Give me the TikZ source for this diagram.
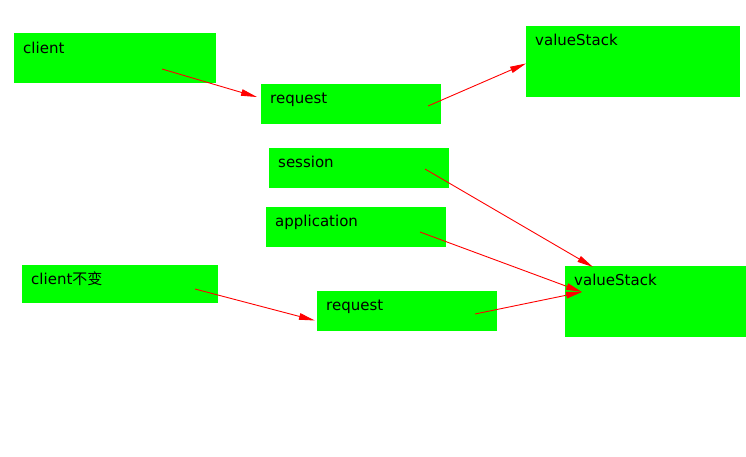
\documentclass[tikz,border=0pt]{standalone}
\usepackage{fontspec}
\setmainfont{DejaVu Sans}
\newfontfamily\cjk{Noto Sans CJK SC}
\usetikzlibrary{arrows.meta,calc}
\definecolor{boxgreen}{HTML}{00FF00}
\definecolor{arrred}{HTML}{FF0000}
\begin{document}
\begin{tikzpicture}[x=1pt,y=-1pt,
  box/.style={fill=boxgreen,draw=none,rectangle,anchor=north west,inner sep=0pt},
  lbl/.style={anchor=base west,inner sep=0pt,font=\fontsize{15}{18}\selectfont},
  conn/.style={draw=arrred,line width=0.9pt,-{Triangle[length=16pt,width=6.5pt]}}]
\useasboundingbox (0,0) rectangle (746,456);
\fill[white] (0,0) rectangle (746,456);
% boxes
\node[box,minimum width=202,minimum height=50] (client) at (14,33) {};
\node[box,minimum width=180,minimum height=40] (req1) at (261,84) {};
\node[box,minimum width=214,minimum height=71] (vs1) at (526,26) {};
\node[box,minimum width=180,minimum height=40] (session) at (269,148) {};
\node[box,minimum width=180,minimum height=40] (app) at (266,207) {};
\node[box,minimum width=196,minimum height=38] (client2) at (22,265) {};
\node[box,minimum width=180,minimum height=40] (req2) at (317,291) {};
\node[box,minimum width=181,minimum height=71] (vs2) at (565,266) {};
% labels
\node[lbl] (tclient) at ($(client.north west)+(9,20)$) {client};
\node[lbl] (treq1) at ($(req1.north west)+(9,19.5)$) {request};
\node[lbl] (tvs1) at ($(vs1.north west)+(9,19.5)$) {valueStack};
\node[lbl] (tsession) at ($(session.north west)+(9,19.5)$) {session};
\node[lbl] (tapp) at ($(app.north west)+(9,19.5)$) {application};
\node[lbl] (tclient2) at ($(client2.north west)+(9,19.5)$) {client{\cjk 不变}};
\node[lbl] (treq2) at ($(req2.north west)+(9,19.5)$) {request};
\node[lbl] (tvs2) at ($(vs2.north west)+(9,19.5)$) {valueStack};
% connector endpoints
\coordinate (a1s) at ($(client.north west)+(148,36)$);
\coordinate (a1e) at ($(req1.north west)+(-4,13)$);
\coordinate (a2s) at ($(req1.north west)+(167,22)$);
\coordinate (a2e) at ($(vs1.north west)+(0,37.5)$);
\coordinate (a3s) at ($(session.north west)+(156,21)$);
\coordinate (a3e) at ($(vs2.north west)+(28,1)$);
\coordinate (a4s) at ($(app.north west)+(154,25)$);
\coordinate (a4e) at ($(vs2.north west)+(17,26)$);
\coordinate (a5s) at ($(req2.north west)+(158,23)$);
\coordinate (a6s) at ($(client2.north west)+(173,24)$);
\coordinate (a6e) at ($(req2.north west)+(-2,29.5)$);
% connectors
\draw[conn] (a1s) -- (a1e);
\draw[conn] (a2s) -- (a2e);
\draw[conn] (a3s) -- (a3e);
\draw[conn] (a4s) -- (a4e);
\draw[conn] (a5s) -- (a4e);
\draw[conn] (a6s) -- (a6e);
\end{tikzpicture}
\end{document}
